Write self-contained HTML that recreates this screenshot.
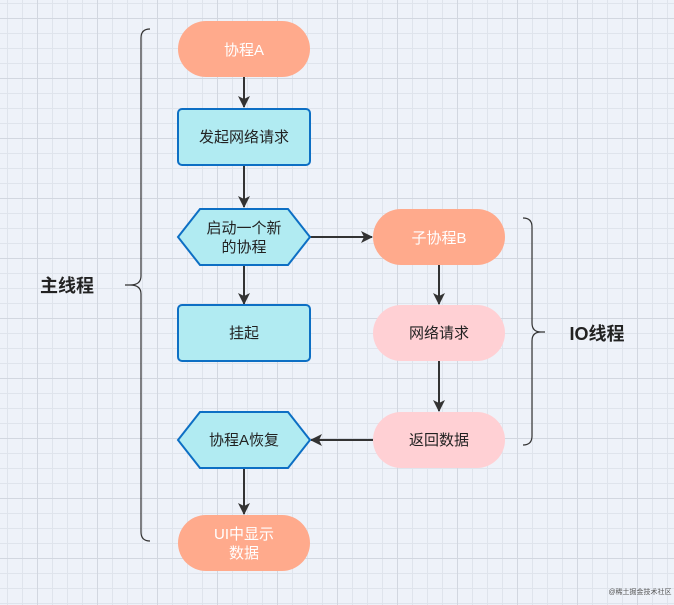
<!DOCTYPE html>
<html><head><meta charset="utf-8"><style>
html,body{margin:0;padding:0;width:674px;height:605px;overflow:hidden;background:#eef2f9;}
svg{display:block}
text{font-family:"Liberation Sans","Noto Sans CJK SC",sans-serif;}
</style></head><body>
<svg width="674" height="605" viewBox="0 0 674 605" xmlns="http://www.w3.org/2000/svg">
<defs>
<pattern id="g" x="7" y="3" width="15" height="15" patternUnits="userSpaceOnUse">
<path d="M0 0.5H15M0.5 0V15" stroke="#dfe4ec" stroke-width="1" fill="none"/>
</pattern>
<pattern id="G" x="37" y="18" width="60" height="60" patternUnits="userSpaceOnUse">
<path d="M0 0.5H60M0.5 0V60" stroke="#d2d7e0" stroke-width="1" fill="none"/>
</pattern>
<marker id="a" markerWidth="12" markerHeight="12" refX="11" refY="6" orient="auto" markerUnits="userSpaceOnUse">
<path d="M0 0L12 6L0 12L3 6Z" fill="#333"/>
</marker>
</defs>
<rect width="674" height="605" fill="#eef2f9"/>
<rect width="674" height="605" fill="url(#g)"/>
<rect width="674" height="605" fill="url(#G)"/>

<path d="M150 29 Q141 29 141 38 V276 Q141 285 130 285 H125 M130 285 Q141 285 141 294 V532 Q141 541 150 541" stroke="#333" stroke-width="1.2" fill="none"/>
<path d="M523 218 Q532 218 532 227 V323 Q532 332 541 332 H545 M541 332 Q532 332 532 341 V436 Q532 445 523 445" stroke="#333" stroke-width="1.2" fill="none"/>
<text x="67" y="292" font-size="18" font-weight="bold" fill="#222" text-anchor="middle">主线程</text>
<text x="597" y="340" font-size="18" font-weight="bold" fill="#222" text-anchor="middle">IO线程</text>

<g stroke="#333" stroke-width="2" fill="none">
<path d="M244 77V107" marker-end="url(#a)"/>
<path d="M244 165V207" marker-end="url(#a)"/>
<path d="M244 265V304" marker-end="url(#a)"/>
<path d="M244 468V514" marker-end="url(#a)"/>
<path d="M310 237H372" marker-end="url(#a)"/>
<path d="M439 265V304" marker-end="url(#a)"/>
<path d="M439 361V411" marker-end="url(#a)"/>
<path d="M373 440H311" marker-end="url(#a)"/>
</g>

<rect x="178" y="21" width="132" height="56" rx="28" fill="#ffaa8c"/>
<text x="244" y="55" font-size="15" fill="#fff" text-anchor="middle">协程A</text>
<rect x="178" y="109" width="132" height="56" rx="4" fill="#b1ebf2" stroke="#0d6fc4" stroke-width="2"/>
<text x="244" y="142" font-size="15" fill="#222" text-anchor="middle">发起网络请求</text>
<polygon points="178,237 200,209 288,209 310,237 288,265 200,265" fill="#b1ebf2" stroke="#0d6fc4" stroke-width="2"/>
<text x="244" y="233" font-size="15" fill="#222" text-anchor="middle">启动一个新</text>
<text x="244" y="252" font-size="15" fill="#222" text-anchor="middle">的协程</text>
<rect x="178" y="305" width="132" height="56" rx="4" fill="#b1ebf2" stroke="#0d6fc4" stroke-width="2"/>
<text x="244" y="338" font-size="15" fill="#222" text-anchor="middle">挂起</text>
<polygon points="178,440 200,412 288,412 310,440 288,468 200,468" fill="#b1ebf2" stroke="#0d6fc4" stroke-width="2"/>
<text x="244" y="445" font-size="15" fill="#222" text-anchor="middle">协程A恢复</text>
<rect x="178" y="515" width="132" height="56" rx="28" fill="#ffaa8c"/>
<text x="244" y="539" font-size="15" fill="#fff" text-anchor="middle">UI中显示</text>
<text x="244" y="558" font-size="15" fill="#fff" text-anchor="middle">数据</text>

<rect x="373" y="209" width="132" height="56" rx="28" fill="#ffaa8c"/>
<text x="439" y="243" font-size="15" fill="#fff" text-anchor="middle">子协程B</text>
<rect x="373" y="305" width="132" height="56" rx="28" fill="#ffd0d4"/>
<text x="439" y="338" font-size="15" fill="#222" text-anchor="middle">网络请求</text>
<rect x="373" y="412" width="132" height="56" rx="28" fill="#ffd0d4"/>
<text x="439" y="445" font-size="15" fill="#222" text-anchor="middle">返回数据</text>

<text x="640" y="594" font-size="7" fill="#555" text-anchor="middle">@稀土掘金技术社区</text>
</svg>
</body></html>
